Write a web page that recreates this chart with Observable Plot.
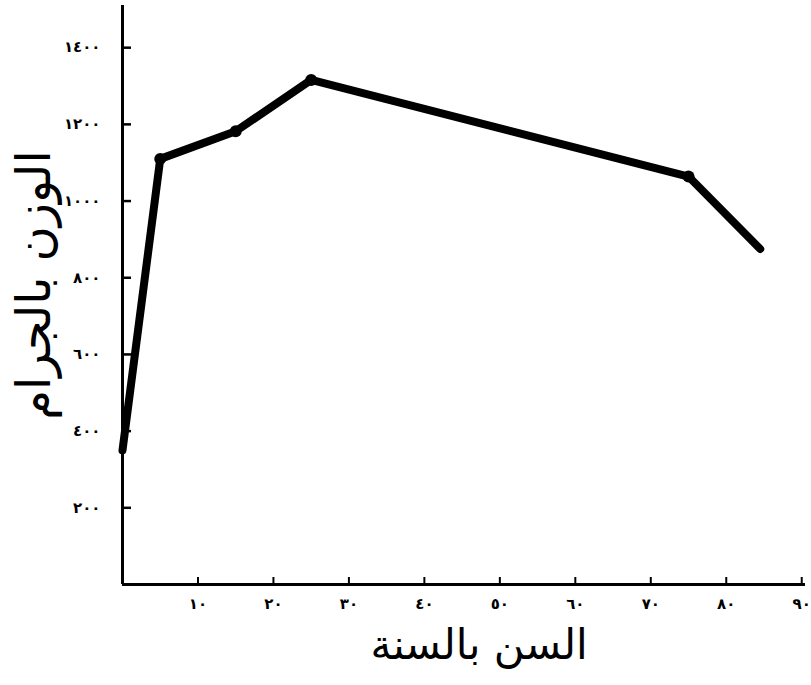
<!DOCTYPE html>
<html>
<head>
<meta charset="utf-8">
<script src="https://cdn.jsdelivr.net/npm/d3@7"></script>
<script src="https://cdn.jsdelivr.net/npm/@observablehq/plot@0.6"></script>
<style>
  html, body { margin: 0; padding: 0; background: #fff; }
  #chart svg { display: block; }
</style>
</head>
<body>
<div id="chart"></div>
<script>
// Age in years and brain weight in grams
const ages = [0, 5, 15, 25, 75, 84.5];
const weights = [350, 1110, 1182, 1316, 1064, 875];
const markedAges = [5, 15, 25, 75];
const markedWeights = [1110, 1182, 1316, 1064];

const xTicks = [10, 20, 30, 40, 50, 60, 70, 80, 90];
const xTickLabels = ["١٠", "٢٠", "٣٠", "٤٠", "٥٠", "٦٠", "٧٠", "٨٠", "٩٠"];
const yTicks = [200, 400, 600, 800, 1000, 1200, 1400];
const yTickLabels = ["٢٠٠", "٤٠٠", "٦٠٠", "٨٠٠", "١٠٠٠", "١٢٠٠", "١٤٠٠"];

const xTitle = "السن بالسنة";
const yTitle = "الوزن بالجرام";

const line = ages.map((a, i) => ({age: a, weight: weights[i]}));
const marked = markedAges.map((a, i) => ({age: a, weight: markedWeights[i]}));

const font = "DejaVu Sans, sans-serif";
const W = 811, H = 685, mL = 122, mR = 6, mT = 5, mB = 101;
const frameW = W - mL - mR, frameH = H - mT - mB;

const chart = Plot.plot({
  width: W,
  height: H,
  marginLeft: mL,
  marginRight: mR,
  marginTop: mT,
  marginBottom: mB,
  style: {fontFamily: font, background: "#fff", color: "#000"},
  x: {domain: [0, 90.5]},
  y: {domain: [0, 1510]},
  marks: [
    Plot.axisX(xTicks, {
      tickSize: 0, tickPadding: 14,
      tickFormat: d => xTickLabels[xTicks.indexOf(d)],
      fontSize: 15, fontWeight: "bold", label: null
    }),
    Plot.axisY(yTicks, {
      tickSize: 0, tickPadding: 22,
      tickFormat: d => yTickLabels[yTicks.indexOf(d)],
      fontSize: 15, fontWeight: "bold", label: null
    }),
    // inward tick marks
    Plot.tickX(xTicks, {x: d => d, stroke: "#000", strokeWidth: 2, insetTop: frameH - 7}),
    Plot.tickY(yTicks, {y: d => d, stroke: "#000", strokeWidth: 2.5, insetRight: frameW - 9}),
    Plot.ruleX([0], {stroke: "#000", strokeWidth: 3}),
    Plot.ruleY([0], {stroke: "#000", strokeWidth: 3}),
    Plot.line(line, {x: "age", y: "weight", stroke: "#000", strokeWidth: 8, strokeLinejoin: "round"}),
    Plot.dot(marked, {x: "age", y: "weight", r: 6, fill: "#000"}),
    Plot.text([xTitle], {frameAnchor: "bottom", textAnchor: "middle", dx: 15, dy: 74, fontSize: 42, fill: "#000", fontFamily: font}),
    Plot.text([yTitle], {frameAnchor: "left", textAnchor: "middle", dx: -88, dy: -10, rotate: -90, fontSize: 48, fill: "#000", fontFamily: font})
  ]
});
document.getElementById("chart").appendChild(chart);
</script>
</body>
</html>
